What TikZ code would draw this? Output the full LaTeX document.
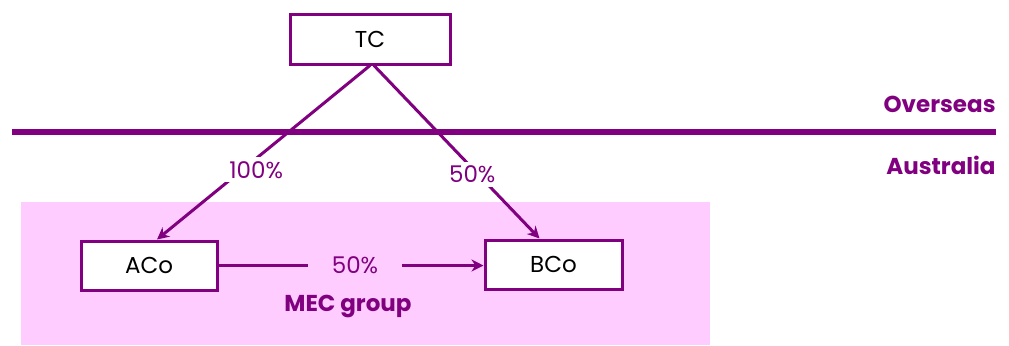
\documentclass[tikz,border=0pt]{standalone}
\usepackage{fontspec}
\setmainfont{Poppins}
\definecolor{mypurple}{RGB}{128,0,128}
\definecolor{mypink}{RGB}{255,204,255}
\usetikzlibrary{positioning,arrows.meta}

\begin{document}
\begin{tikzpicture}[x=0.5pt,y=-0.5pt,
    every node/.style={font=\fontsize{11.5}{13}\selectfont},
    cobox/.style={draw=mypurple,line width=1.5pt,fill=white,minimum height=24.5pt},
    conn/.style={mypurple,line width=1.5pt,-{Stealth[length=6pt,width=6pt]}},
    pct/.style={text=mypurple,inner sep=2pt},
    region/.style={text=mypurple,font=\fontsize{11.5}{13}\selectfont\bfseries}
    ]
    \useasboundingbox (0,0) rectangle (1009,345);

    % the MEC group
    \fill[mypink] (21,202) rectangle (710,345);
    \node[region] (mec) at (348,306) {MEC group};

    % the border
    \draw[mypurple,line width=3pt] (12,132) -- (996,132);
    \node[region,anchor=east,inner xsep=0pt] (over) at (996,104) {Overseas};
    \node[region,anchor=east,inner xsep=0pt] (aus) at (996,165) {Australia};

    % the companies
    \node[cobox,minimum width=80pt,minimum height=25pt] (tc) at (370,39) {TC};
    \node[cobox,minimum width=68pt] (aco) at (149,265.5) {ACo};
    \node[cobox,minimum width=68.5pt] (bco) at (553.5,264.5) {BCo};

    % the holdings
    \draw[conn] (tc.south) -- ([xshift=4pt]aco.north)
        node[pct,fill=white,pos=0.6,xshift=7pt] {100\%};
    \draw[conn] ([xshift=2pt]tc.south) -- ([xshift=-7pt]bco.north)
        node[pct,fill=white,pos=0.63,xshift=-3pt] {50\%};
    \draw[conn] (aco.east) -- (aco.east -| bco.west)
        node[pct,fill=mypink,midway,xshift=2pt,inner xsep=12pt] {50\%};

\end{tikzpicture}
\end{document}
